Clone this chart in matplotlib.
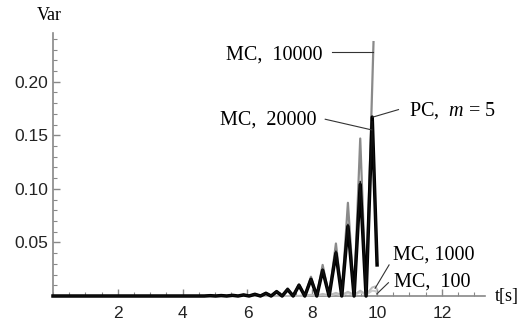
import numpy as np
import matplotlib
matplotlib.use('Agg')
import matplotlib.pyplot as plt
from matplotlib.ticker import MultipleLocator, FixedLocator

plt.rcParams['mathtext.fontset'] = 'custom'
plt.rcParams['mathtext.rm'] = 'Liberation Serif'
plt.rcParams['mathtext.it'] = 'Liberation Serif:italic'

# PC, m = 5 (thick black)
t_pc = [0, 4.67, 4.85, 5.02, 5.19, 5.36, 5.54, 5.71, 5.88, 6.05, 6.23, 6.40, 6.57, 6.73, 6.90, 7.07,
        7.24, 7.41, 7.59, 7.77, 7.96, 8.14, 8.32, 8.52, 8.73, 8.91, 9.10, 9.29, 9.48, 9.66, 9.85, 10.0]
var_pc = [0, 0, 0.0003, 0, 0.0004, 0, 0.0006, 0, 0.001, 0, 0.0016, 0, 0.0025, 0, 0.004, 0,
          0.006, 0, 0.010, 0, 0.0156, 0, 0.024, 0, 0.040, 0, 0.065, 0, 0.104, 0, 0.167, 0.029]

# MC, 20000 (thin black, almost on top of PC)
t_mc20000 = t_pc
var_mc20000 = [0, 0, 0.0003, 0, 0.0004, 0, 0.0007, 0, 0.001, 0, 0.0017, 0, 0.0026, 0, 0.0042, 0,
               0.0064, 0, 0.0105, 0, 0.016, 0, 0.025, 0, 0.042, 0, 0.067, 0, 0.107, 0, 0.163, 0.032]

# MC, 10000 (gray)
t_mc10000 = [0, 4.67, 4.85, 5.02, 5.19, 5.36, 5.54, 5.71, 5.88, 6.05, 6.23, 6.40, 6.57, 6.73, 6.90, 7.07,
             7.24, 7.41, 7.59, 7.77, 7.96, 8.14, 8.32, 8.52, 8.73, 8.91, 9.10, 9.29, 9.48, 9.66, 9.89]
var_mc10000 = [0, 0, 0.0003, 0, 0.0005, 0, 0.0007, 0, 0.0012, 0, 0.0019, 0, 0.003, 0, 0.0048, 0,
               0.0072, 0, 0.011, 0, 0.018, 0, 0.029, 0, 0.049, 0, 0.087, 0, 0.147, 0, 0.237]

# MC, 1000 and MC, 100 (light gray, near zero)
t_mc1000 = [0, 7.5, 7.78, 7.96, 8.14, 8.32, 8.52, 8.73, 8.91, 9.10, 9.29, 9.48, 9.66, 9.85, 9.95, 10.0]
var_mc1000 = [0, 0, 0.0005, 0.0012, 0.0004, 0.002, 0.0006, 0.003, 0.001, 0.004, 0.0012, 0.005,
              0.0015, 0.008, 0.009, 0.006]
t_mc100 = t_mc1000
var_mc100 = [0, 0, 0.0003, 0.0008, 0.0003, 0.0012, 0.0004, 0.0018, 0.0006, 0.0025, 0.0008, 0.0035,
             0.001, 0.005, 0.0045, 0.003]

# labels: text, text anchor, leader start, leader end
labels = ['MC,  10000', 'MC,  20000', 'PC,  $m$ = 5', 'MC, 1000', 'MC,  100']
label_xy = [(8.33, 0.2205), (8.14, 0.1597), (11.0, 0.168), (10.49, 0.0336), (10.52, 0.0087)]
label_ha = ['right', 'right', 'left', 'left', 'left']
lead_from = [(8.60, 0.228), (8.40, 0.165), (10.66, 0.174), (10.37, 0.029), (10.35, 0.0124)]
lead_to = [(9.87, 0.228), (9.84, 0.155), (9.87, 0.167), (9.94, 0.0072), (9.99, 0.0019)]

fig = plt.figure(figsize=(5.25, 3.22), dpi=100)
ax = fig.add_axes([53/525, 26/322, 432/525, 263/322])

ax.plot(t_mc100, var_mc100, color='#cccccc', lw=1.4, clip_on=False, zorder=3)
ax.plot(t_mc1000, var_mc1000, color='#bbbbbb', lw=1.4, clip_on=False, zorder=3)
ax.plot(t_mc10000, var_mc10000, color='#8a8a8a', lw=1.6, clip_on=False, zorder=3)
ax.plot(t_pc, var_pc, color='black', lw=2.5, clip_on=False, zorder=3)
ax.plot(t_mc20000, var_mc20000, color='#111111', lw=1.0, clip_on=False, zorder=3)

for s, (x, y), ha, p0, p1 in zip(labels, label_xy, label_ha, lead_from, lead_to):
    ax.text(x, y, s, ha=ha, va='baseline', fontsize=14.5, family='Liberation Serif')
    ax.plot([p0[0], p1[0]], [p0[1], p1[1]], color='#333333', lw=0.8, clip_on=False, zorder=4)

ax.set_xlim(0, 13.33)
ax.set_ylim(0, 0.2455)
ax.spines['top'].set_visible(False)
ax.spines['right'].set_visible(False)
for sp in ['left', 'bottom']:
    ax.spines[sp].set_color('#888888')
    ax.spines[sp].set_linewidth(1.2)

ax.xaxis.set_major_locator(FixedLocator([2, 4, 6, 8, 10, 12]))
ax.xaxis.set_minor_locator(MultipleLocator(0.5))
ax.yaxis.set_major_locator(FixedLocator([0.05, 0.10, 0.15, 0.20]))
ax.yaxis.set_minor_locator(MultipleLocator(0.01))
ax.set_yticklabels(['0.05', '0.10', '0.15', '0.20'])
ax.tick_params(which='both', direction='in', color='#888888', labelsize=12.5,
               labelcolor='#222222', labelfontfamily='Liberation Sans')
ax.tick_params(which='major', length=5, width=1)
ax.tick_params(which='minor', length=3, width=0.8)
ax.tick_params(axis='x', pad=7)

fig.text(49/525, 1 - 15/322, 'Var', ha='center', va='center', fontsize=13, family='Liberation Serif')
ax.text(13.64, 0, 't[s]', ha='left', va='center', fontsize=13, family='Liberation Serif', clip_on=False)

fig.savefig('out.png', dpi=100)
